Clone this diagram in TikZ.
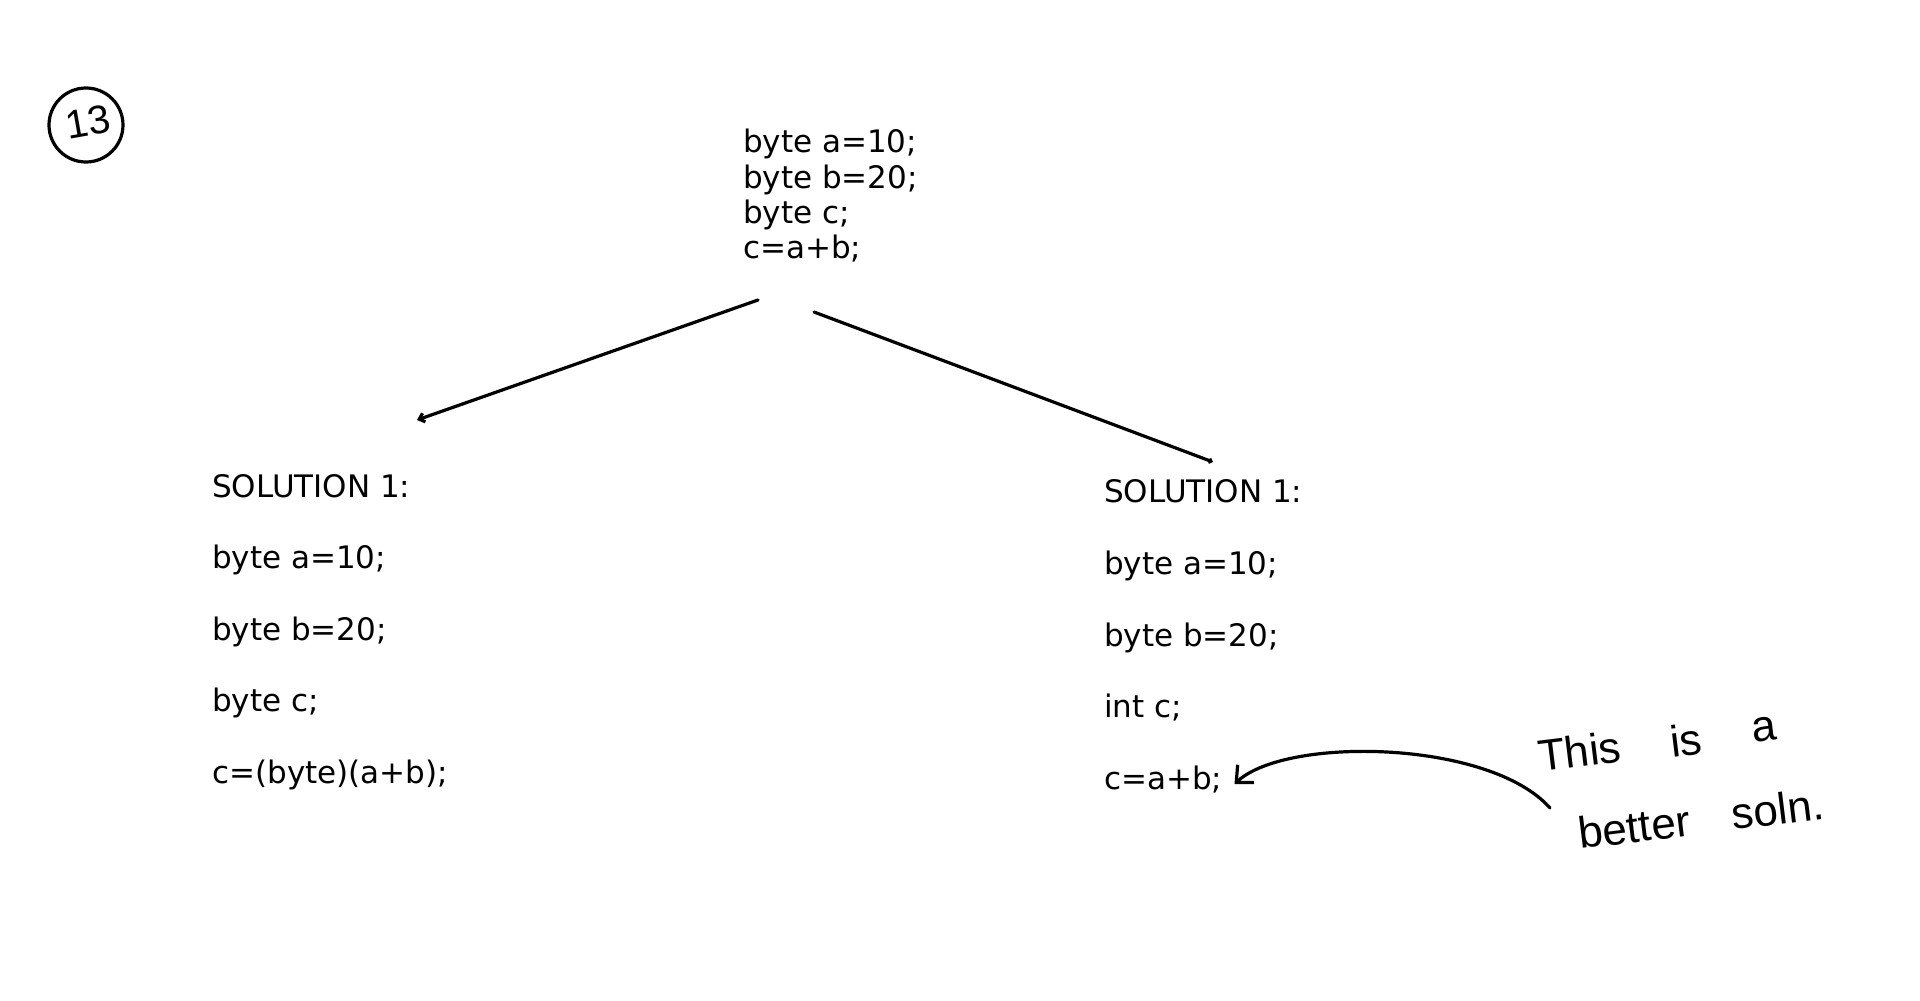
\documentclass[tikz,border=0pt]{standalone}
\usepackage{fontspec}
\setmainfont{DejaVu Sans}
\newfontfamily\handfont{Liberation Sans}
\usetikzlibrary{arrows.meta}
\tikzset{
  code/.style={anchor=base west,inner sep=0pt,font=\fontsize{31}{36}\selectfont},
  scrawl/.style={anchor=base west,inner sep=0pt,rotate=7,font=\handfont\fontsize{44}{48}\selectfont},
  pen/.style={line width=3.2pt,line cap=round,line join=round},
}
\begin{document}
\begin{tikzpicture}[x=1pt,y=-1pt]
 \useasboundingbox (0,0) rectangle (1920,1001);
 % question number
 \draw[pen] (86,125) circle (37);
 \node[inner sep=0pt,rotate=10,font=\handfont\fontsize{40}{40}\selectfont] (num) at (88,122) {13};
 % the question
 \node[code] (t1) at (743,152) {byte a=10;};
 \node[code] (t2) at (743,188) {byte b=20;};
 \node[code] (t3) at (743,223) {byte c;};
 \node[code] (t4) at (743,258) {c=a+b;};
 % left answer
 \node[code] (l1) at (212,497) {SOLUTION 1:};
 \node[code] (l2) at (212,568) {byte a=10;};
 \node[code] (l3) at (212,640) {byte b=20;};
 \node[code] (l4) at (212,711) {byte c;};
 \node[code] (l5) at (212,783) {c=(byte)(a+b);};
 % right answer
 \node[code] (r1) at (1104,502) {SOLUTION 1:};
 \node[code] (r2) at (1104,574) {byte a=10;};
 \node[code] (r3) at (1104,646) {byte b=20;};
 \node[code] (r4) at (1104,717) {int c;};
 \node[code] (r5) at (1104,789) {c=a+b;};
 % the two ways
 \draw[pen,-{Straight Barb[length=5pt,width=9pt]}] ([shift={(15,42)}]t4.base west) -- ([shift={(205,-77)}]l1.base west);
 \draw[pen,-{Straight Barb[length=2pt,width=4pt]}] ([shift={(71,54)}]t4.base west) -- ([shift={(109,-40)}]r1.base west);
 % remark
 \node[scrawl] (w1) at (1540,772) {This};
 \node[scrawl] (w2) at (1672,758) {is};
 \node[scrawl] (w3) at (1753,743) {a};
 \node[scrawl] (w4) at (1580,849) {better};
 \node[scrawl] (w5) at (1733,830) {soln.};
 \draw[pen,-{Straight Barb[length=13pt,width=24pt]}] ([shift={(-30,-41)}]w4.base west) .. controls +(-60,-68) and +(52,-48) .. ([shift={(12,-5)}]r5.base east);
\end{tikzpicture}
\end{document}
